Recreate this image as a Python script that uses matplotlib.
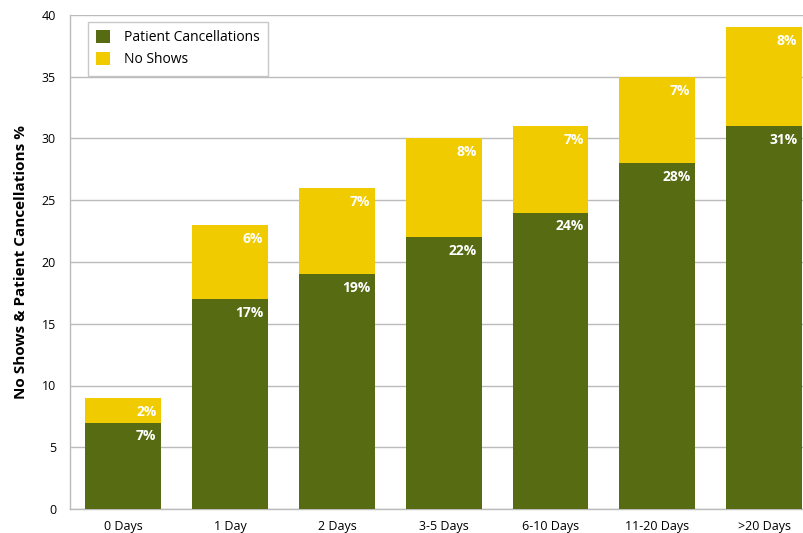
import matplotlib
matplotlib.use("Agg")
import matplotlib.pyplot as plt

categories = ["0 Days", "1 Day", "2 Days", "3-5 Days", "6-10 Days", "11-20 Days", ">20 Days"]
cancellations = [7, 17, 19, 22, 24, 28, 31]
no_shows = [2, 6, 7, 8, 7, 7, 8]
yticks = [0, 5, 10, 15, 20, 25, 30, 35, 40]

green = "#566B12"
yellow = "#F0CB00"
grid = "#BBBBBB"

plt.rcParams['font.family'] = ['Open Sans', 'DejaVu Sans']

fig = plt.figure(figsize=(8.04, 5.33), dpi=100)
ax = fig.add_axes([70/804, 24/533, 1 - 70/804, (509-15)/533])

x = list(range(len(categories)))
ax.bar(x, cancellations, width=0.71, color=green, label="Patient Cancellations", zorder=3)
ax.bar(x, no_shows, width=0.71, bottom=cancellations, color=yellow, label="No Shows", zorder=3)

for i in x:
    c = cancellations[i]
    n = no_shows[i]
    ax.text(i + 0.31, c - 0.55, f"{c}%", ha="right", va="top", color="white",
            fontsize=10, fontweight="bold", zorder=4)
    ax.text(i + 0.31, c + n - 0.55, f"{n}%", ha="right", va="top", color="white",
            fontsize=10, fontweight="bold", zorder=4)

ax.set_xlim(-0.5, 6.374)
ax.set_ylim(0, 40)
ax.set_yticks(yticks)
ax.set_xticks(x)
ax.set_xticklabels(categories, fontsize=9)
ax.tick_params(axis="both", length=0, labelsize=9)
ax.tick_params(axis="y", pad=10)
ax.tick_params(axis="x", pad=8)
ax.yaxis.grid(True, color=grid, linewidth=1, zorder=0)
ax.set_axisbelow(True)
for s in ["top", "right"]:
    ax.spines[s].set_visible(False)
for s in ["left", "bottom"]:
    ax.spines[s].set_color(grid)
    ax.spines[s].set_linewidth(1)

ax.set_ylabel("No Shows & Patient Cancellations %", fontsize=11, fontweight="bold", labelpad=10)

leg = ax.legend(loc="upper left", bbox_to_anchor=(0.015, 1.0), fontsize=10, frameon=True,
                fancybox=False, handlelength=1.0, handleheight=1.0, borderpad=0.6,
                labelspacing=0.5, handletextpad=1.0)
leg.get_frame().set_edgecolor(grid)
leg.get_frame().set_linewidth(1)

fig.savefig("out.png", dpi=100)
